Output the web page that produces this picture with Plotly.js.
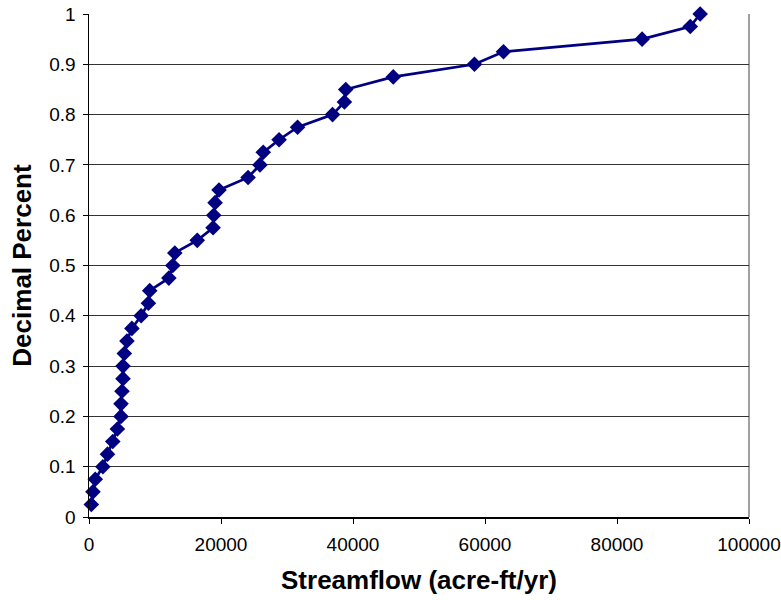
<!DOCTYPE html>
<html>
<head>
<meta charset="utf-8">
<script src="https://cdn.plot.ly/plotly-3.0.1.min.js"></script>
<style>html,body{margin:0;padding:0;background:#fff;}#chart{width:781px;height:600px;}</style>
</head>
<body>
<div id="chart"></div>
<script>
const streamflow = [350, 600, 950, 2100, 2800, 3600, 4300, 4850, 4850, 5000,
  5150, 5150, 5350, 5750, 6500, 7900, 9000, 9200, 12100, 12700,
  13000, 16400, 18800, 18900, 19100, 19700, 24100, 25900, 26400, 28800,
  31600, 36900, 38700, 38900, 46100, 58400, 62800, 83800, 91100, 92600];
const decimalPercent = [0.025, 0.05, 0.075, 0.1, 0.125, 0.15, 0.175, 0.2, 0.225, 0.25,
  0.275, 0.3, 0.325, 0.35, 0.375, 0.4, 0.425, 0.45, 0.475, 0.5,
  0.525, 0.55, 0.575, 0.6, 0.625, 0.65, 0.675, 0.7, 0.725, 0.75,
  0.775, 0.8, 0.825, 0.85, 0.875, 0.9, 0.925, 0.95, 0.975, 1.0];
const xTitle = 'Streamflow (acre-ft/yr)';
const yTitle = 'Decimal Percent';

const trace = {
  x: streamflow, y: decimalPercent, type: 'scatter', mode: 'lines+markers',
  line: {color: '#000080', width: 2.7},
  marker: {symbol: 'diamond', size: 12, color: '#000080'},
  cliponaxis: false,
  hoverinfo: 'none'
};
const font = 'Arial, "Liberation Sans", sans-serif';
const layout = {
  width: 781, height: 600,
  margin: {l: 89, r: 32, t: 14, b: 83},
  paper_bgcolor: '#fff', plot_bgcolor: '#fff',
  showlegend: false,
  font: {family: font, size: 19, color: '#000'},
  xaxis: {
    range: [0, 100000], dtick: 20000, tick0: 0, tickformat: 'd',
    showgrid: false, zeroline: false,
    showline: true, linecolor: '#000', linewidth: 1.5,
    ticks: 'outside', ticklen: 5, tickcolor: '#000', tickwidth: 1,
    ticklabelstandoff: 5,
    tickfont: {family: font, size: 19},
    title: {text: xTitle, font: {family: font, size: 26, weight: 'bold'}, standoff: 16}
  },
  yaxis: {
    range: [0, 1], dtick: 0.1, tick0: 0,
    showgrid: true, gridcolor: '#333', gridwidth: 1,
    zeroline: false,
    showline: true, linecolor: '#000', linewidth: 1.5,
    ticks: 'outside', ticklen: 5, tickcolor: '#000', tickwidth: 1,
    ticklabelstandoff: 3,
    tickfont: {family: font, size: 19},
    title: {text: yTitle, font: {family: font, size: 26, weight: 'bold'}, standoff: 10}
  },
  shapes: [{type: 'line', xref: 'paper', yref: 'paper', x0: 1, x1: 1, y0: 0, y1: 1,
            line: {color: '#808080', width: 1.5}, layer: 'below'}]
};
Plotly.newPlot('chart', [trace], layout, {staticPlot: true, displayModeBar: false});
</script>
</body>
</html>
